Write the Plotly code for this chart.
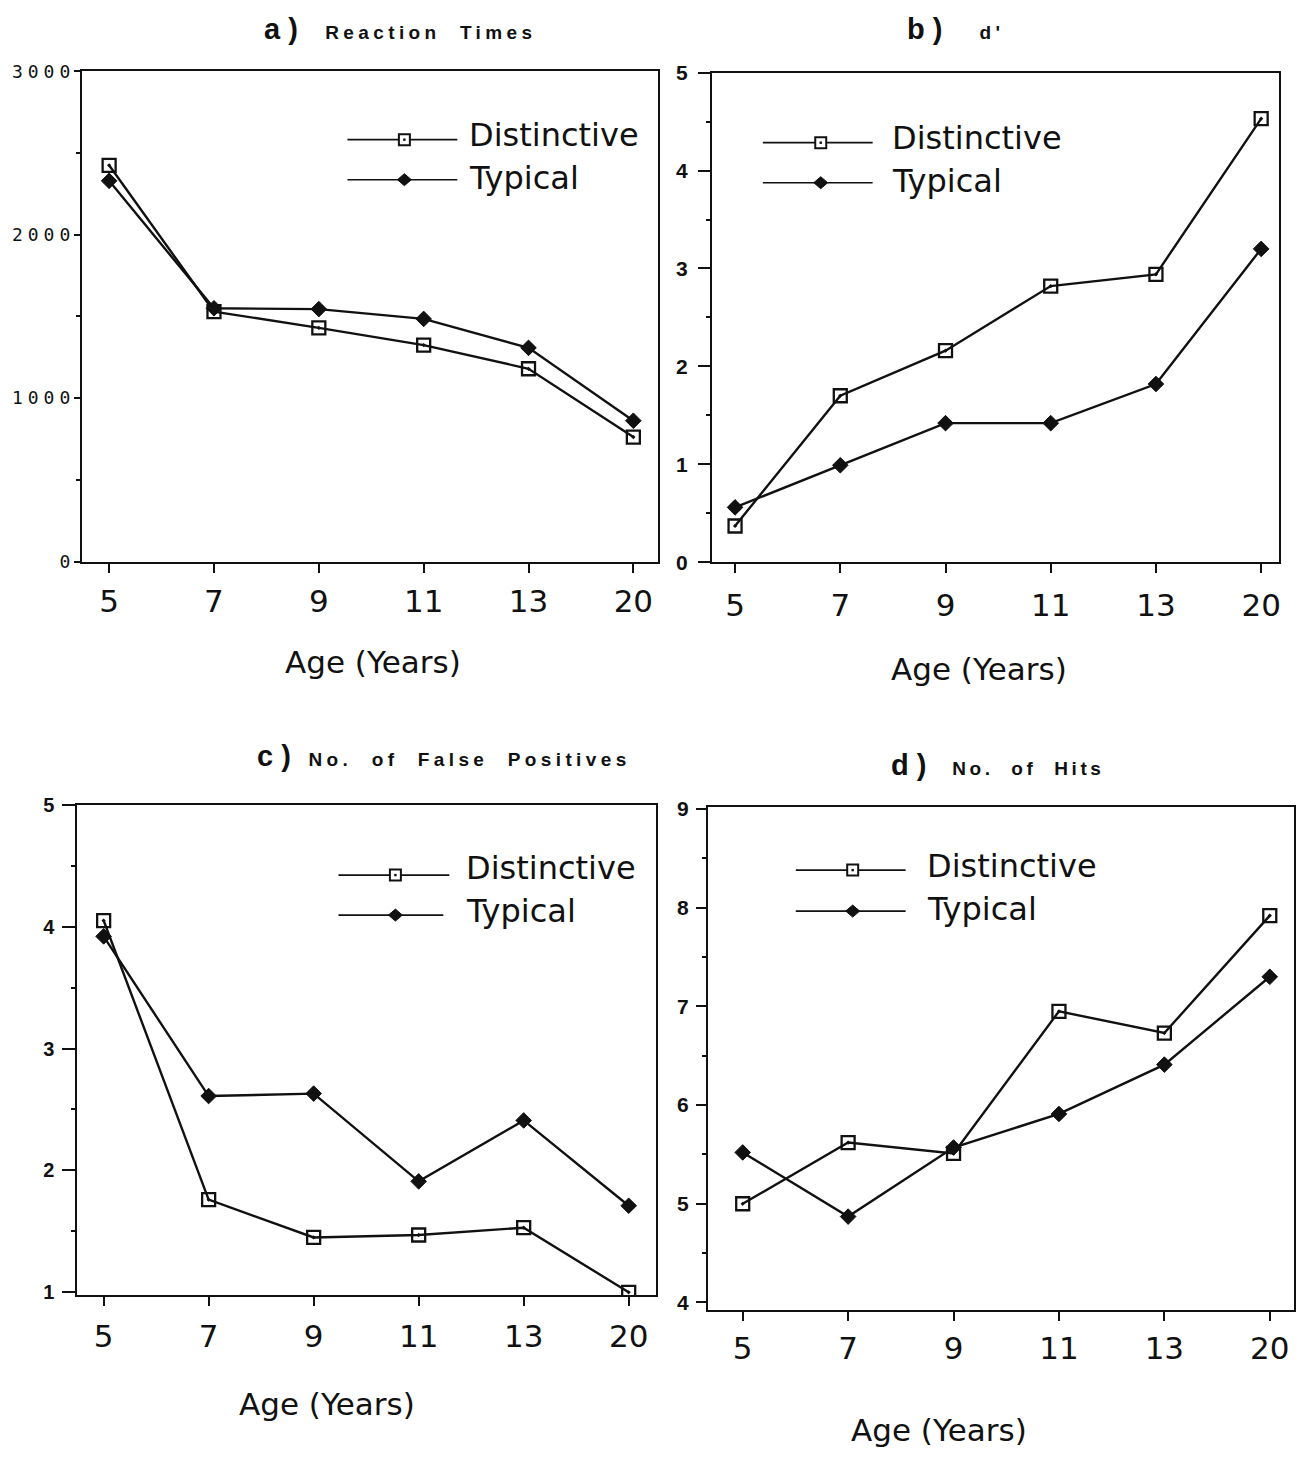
import plotly.graph_objects as go

# ---------------- data ----------------
ages = ["5", "7", "9", "11", "13", "20"]

rt_distinctive = [2425, 1530, 1430, 1325, 1180, 762]
rt_typical = [2330, 1550, 1545, 1485, 1308, 862]

dprime_distinctive = [0.37, 1.70, 2.16, 2.82, 2.94, 4.53]
dprime_typical = [0.56, 0.99, 1.42, 1.42, 1.82, 3.20]

fp_distinctive = [4.05, 1.76, 1.45, 1.47, 1.53, 1.00]
fp_typical = [3.92, 2.61, 2.63, 1.91, 2.41, 1.71]

hits_distinctive = [5.00, 5.62, 5.51, 6.95, 6.73, 7.92]
hits_typical = [5.52, 4.87, 5.57, 5.91, 6.41, 7.30]

rt_ticks = [0, 1000, 2000, 3000]
series_names = ["Distinctive", "Typical"]

W, H = 1310, 1461
INK = "#111111"

# the captured picture shows the page slightly squeezed vertically;
# map target picture rows back to figure rows
Y0, YS = 13.4, 0.9837


def fy(y):
    return (y - Y0) / YS


def px(x, y):
    return x / W, 1 - fy(y) / H


def xdom(a, b):
    return [a / W, b / W]


def ydom(top, bottom):
    return [1 - fy(bottom) / H, 1 - fy(top) / H]


fig = go.Figure()

panels = [
    ("x", "y", rt_distinctive, rt_typical),
    ("x2", "y2", dprime_distinctive, dprime_typical),
    ("x3", "y3", fp_distinctive, fp_typical),
    ("x4", "y4", hits_distinctive, hits_typical),
]

for xa, ya, dist, typ in panels:
    fig.add_trace(go.Scatter(
        x=ages, y=dist, name=series_names[0], xaxis=xa, yaxis=ya,
        mode="lines+markers", line=dict(color=INK, width=2.4),
        marker=dict(symbol="square-open-dot", size=13, color=INK,
                    line=dict(color=INK, width=2.3)),
        showlegend=False))
    fig.add_trace(go.Scatter(
        x=ages, y=typ, name=series_names[1], xaxis=xa, yaxis=ya,
        mode="lines+markers", line=dict(color=INK, width=2.4),
        marker=dict(symbol="diamond", size=12, color=INK,
                    line=dict(color=INK, width=1)),
        showlegend=False))


# ---------------- axes ----------------
def xaxis_style(dom, rng, anchor, standoff):
    return dict(domain=dom, anchor=anchor, type="category",
                categoryorder="array", categoryarray=ages, range=rng,
                showline=True, mirror=True, linecolor=INK, linewidth=2,
                ticks="outside", ticklen=9, tickwidth=2, tickcolor=INK,
                showgrid=False, zeroline=False,
                tickfont=dict(family="DejaVu Sans", size=31, color=INK),
                ticklabelstandoff=standoff)


def yaxis_style(dom, rng, anchor, dtick, minor, ticklen, font, standoff):
    return dict(domain=dom, anchor=anchor, range=rng, tick0=0, dtick=dtick,
                showline=True, mirror=True, linecolor=INK, linewidth=2,
                ticks="outside", ticklen=ticklen, tickwidth=2, tickcolor=INK,
                minor=dict(dtick=minor, ticks="outside", ticklen=4,
                           tickwidth=1.5, tickcolor=INK, showgrid=False),
                showgrid=False, zeroline=False, tickfont=font,
                ticklabelstandoff=standoff)


mono = dict(family="DejaVu Sans Mono", size=18, color=INK)
boldf = dict(family="Liberation Sans", size=21, color=INK, weight="bold")
regf = dict(family="Liberation Sans", size=20, color=INK, weight="bold")

ya = yaxis_style(ydom(72.7, 562.7), [0, 3000], "x", 1000, 500, 6, mono, 0)
ya.update(tickvals=rt_ticks,
          ticktext=['<span style="letter-spacing:5px">%s</span>%s'
                    % (str(v)[:-1], str(v)[-1]) for v in rt_ticks])

fig.update_layout(
    xaxis=xaxis_style(xdom(82, 659), [-0.26, 5.235], "y", 2),
    yaxis=ya,
    xaxis2=xaxis_style(xdom(713, 1281), [-0.22, 5.17], "y2", 6),
    yaxis2=yaxis_style(ydom(74, 563.3), [0, 5], "x2", 1, 0.5, 12, boldf, 6),
    xaxis3=xaxis_style(xdom(77.5, 657), [-0.25, 5.26], "y3", 3),
    yaxis3=yaxis_style(ydom(805.7, 1296), [0.975, 5.0], "x3", 1, 0.5, 13,
                       regf, 4),
    xaxis4=xaxis_style(xdom(709, 1296), [-0.33, 5.23], "y4", 0),
    yaxis4=yaxis_style(ydom(808, 1311), [3.92, 9.02], "x4", 1, 0.5, 10,
                       boldf, 3),
)

# ---------------- titles & axis titles ----------------
annotations = []


def title(x, y, letter, words, spacing=4.4):
    ax, ay = px(x, y)
    annotations.append(dict(
        x=ax, y=ay, xref="paper", yref="paper", xanchor="left",
        yanchor="middle", showarrow=False,
        font=dict(family="Liberation Sans", size=19, color=INK),
        text=('<b><span style="font-size:29px;letter-spacing:8px">' + letter
              + '</span><span style="letter-spacing:%spx">' % spacing + words
              + '</span></b>')))


title(262, 30, "a)", "  Reaction  Times")
title(906, 30, "b)", "   d'")
title(255, 757, "c)", " No.  of  False  Positives")
title(890, 766, "d)", "  No.  of  Hits", spacing=3.6)


def axis_title(x, y):
    ax, ay = px(x, y)
    annotations.append(dict(
        x=ax, y=ay, xref="paper", yref="paper", xanchor="center",
        yanchor="middle", showarrow=False, text="Age (Years)",
        font=dict(family="DejaVu Sans", size=31, color=INK)))


axis_title(374, 663)
axis_title(980, 670)
axis_title(327, 1405)
axis_title(940, 1431)

# ---------------- in-panel legends ----------------
shapes = []


def legend(x0, x1, xm, y_d, y_t, xt, yt_d, yt_t, x1t=None):
    x1t = x1 if x1t is None else x1t
    for (yy, xe) in ((y_d, x1), (y_t, x1t)):
        a0 = px(x0, yy)
        a1 = px(xe, yy)
        shapes.append(dict(type="line", xref="paper", yref="paper",
                           x0=a0[0], y0=a0[1], x1=a1[0], y1=a1[1],
                           line=dict(color=INK, width=1.6)))
    # open square with centre dot
    s0 = px(xm - 5.5, y_d - 5.5)
    s1 = px(xm + 5.5, y_d + 5.5)
    shapes.append(dict(type="rect", xref="paper", yref="paper",
                       x0=s0[0], y0=s0[1], x1=s1[0], y1=s1[1],
                       fillcolor="white", line=dict(color=INK, width=2)))
    d0 = px(xm - 1.2, y_d - 1.2)
    d1 = px(xm + 1.2, y_d + 1.2)
    shapes.append(dict(type="rect", xref="paper", yref="paper",
                       x0=d0[0], y0=d0[1], x1=d1[0], y1=d1[1],
                       fillcolor=INK, line=dict(width=0)))
    # filled diamond
    pts = [px(xm - 7, y_t), px(xm, y_t - 6), px(xm + 7, y_t), px(xm, y_t + 6)]
    path = "M {} {} L {} {} L {} {} L {} {} Z".format(
        pts[0][0], pts[0][1], pts[1][0], pts[1][1],
        pts[2][0], pts[2][1], pts[3][0], pts[3][1])
    shapes.append(dict(type="path", xref="paper", yref="paper", path=path,
                       fillcolor=INK, line=dict(color=INK, width=1)))
    for name, yy in ((series_names[0], yt_d), (series_names[1], yt_t)):
        ax, ay = px(xt, yy)
        annotations.append(dict(
            x=ax, y=ay, xref="paper", yref="paper", xanchor="left",
            yanchor="middle", showarrow=False, text=name,
            font=dict(family="DejaVu Sans", size=32, color=INK)))


legend(348, 458, 405, 141, 181, 468, 136, 179)
legend(764, 874, 822, 144, 184, 891, 139, 182)
legend(339, 450, 396, 876, 916, 465, 869, 912, x1t=444)
legend(797, 907, 854, 871, 912, 926, 867, 910)

fig.update_layout(
    width=W, height=H, margin=dict(l=0, r=0, t=0, b=0),
    paper_bgcolor="white", plot_bgcolor="white", showlegend=False,
    annotations=annotations, shapes=shapes)

# pin the figure to the window's top-left corner (no default body margin)
pin = ("document.body.style.margin='0';"
       "var gd=document.getElementById('{plot_id}');"
       "gd.style.position='fixed';gd.style.left='0px';gd.style.top='0px';")

fig.write_html("out.html", post_script=pin,
               config={"displayModeBar": False})
